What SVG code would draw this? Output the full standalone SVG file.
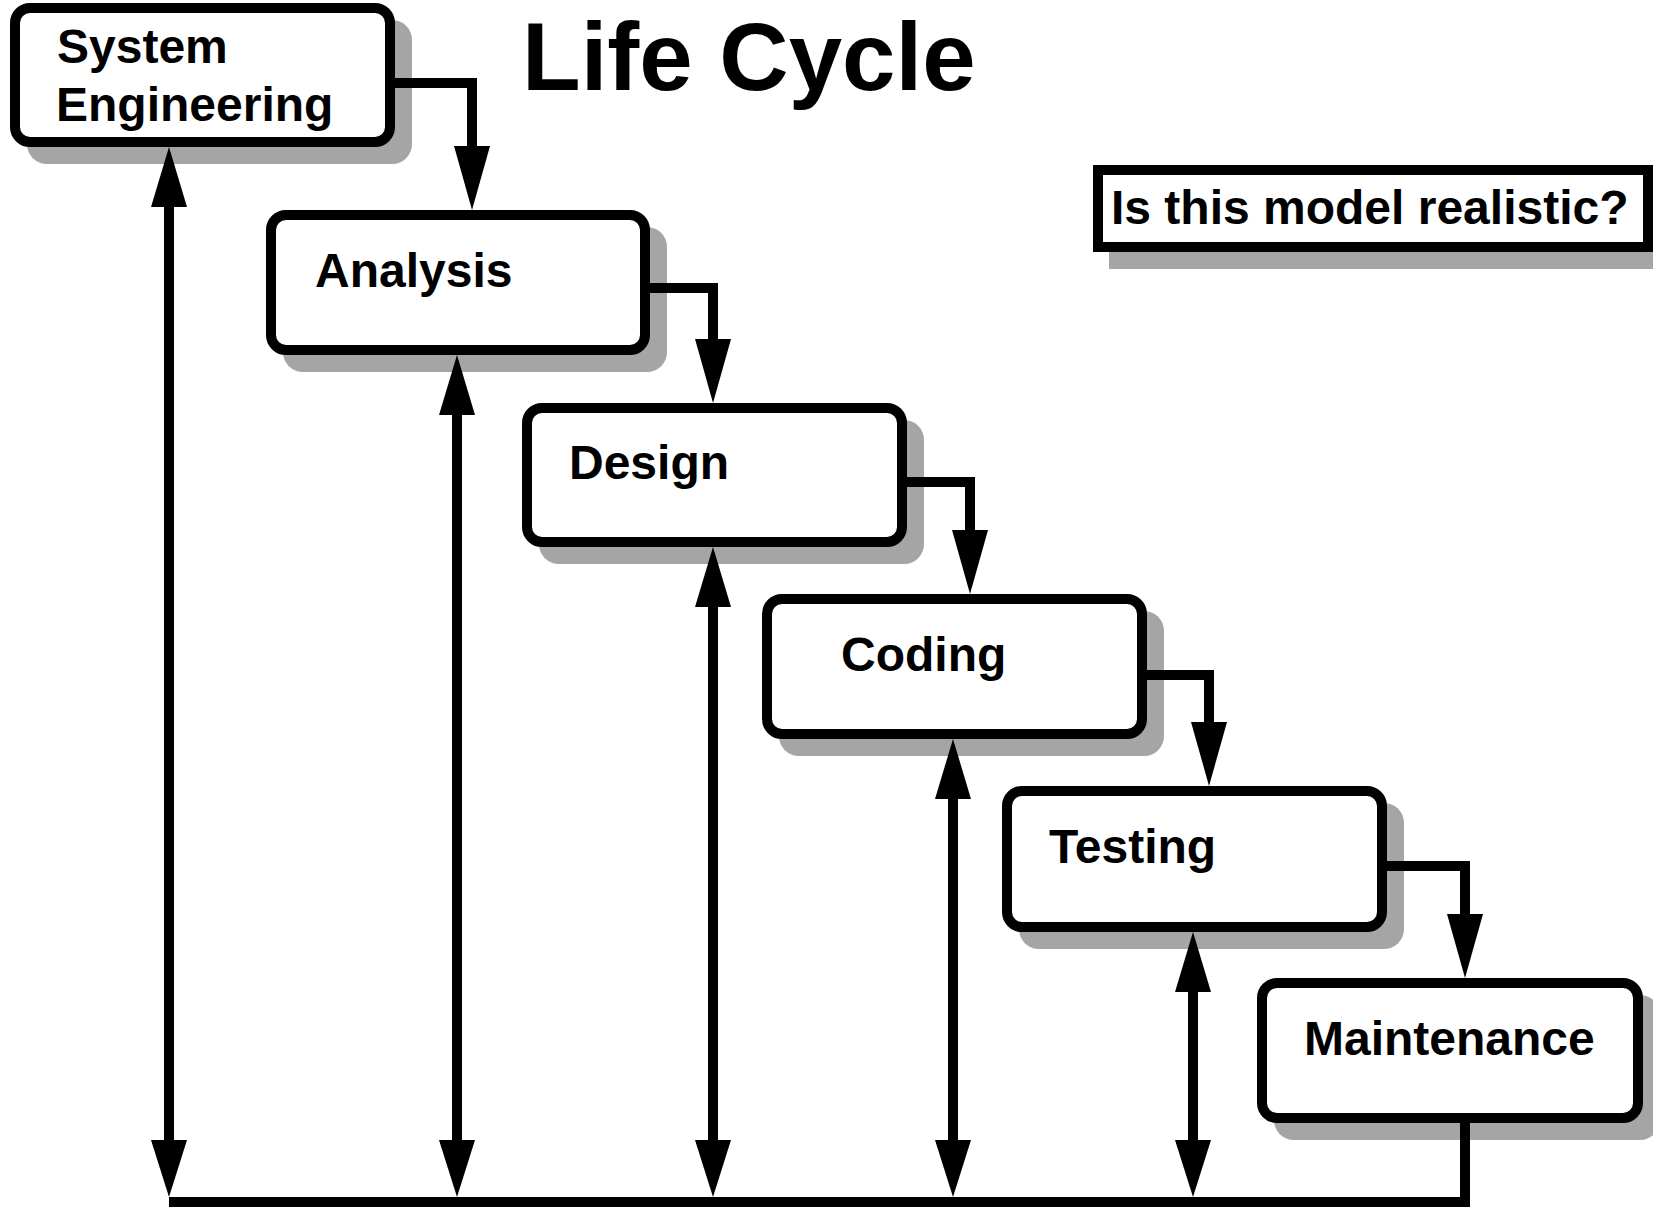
<svg xmlns="http://www.w3.org/2000/svg" xmlns:xlink="http://www.w3.org/1999/xlink" width="1653" height="1207" viewBox="0 0 1653 1207">
<defs>
<style>
.shadow{fill:#a5a5a5;stroke:none}
.box{fill:#ffffff;stroke:#000;stroke-width:10}
.lbl{font-family:"Liberation Sans",Arial,Helvetica,sans-serif;font-weight:bold;font-size:48px;fill:#000}
.title{font-family:"Liberation Sans",Arial,Helvetica,sans-serif;font-weight:bold;font-size:96px;fill:#000}
.note{font-family:"Liberation Sans",Arial,Helvetica,sans-serif;font-weight:bold;font-size:48px;fill:#000}
.wire{fill:none;stroke:#000;stroke-width:10;stroke-linejoin:miter;stroke-linecap:butt}
</style>
<polygon id="dn" points="0,0 -18,-64 18,-64" fill="#000"/>
<polygon id="dnb" points="0,0 -18,-57 18,-57" fill="#000"/>
<polygon id="up" points="0,0 -18,60 18,60" fill="#000"/>
</defs>
<rect width="1653" height="1207" fill="#fff"/>

<text class="title" x="522" y="90">Life Cycle</text>

<g id="note">
<rect class="shadow" x="1109" y="181" width="560" height="88"/>
<rect class="box" x="1098" y="170" width="550" height="77"/>
<text class="note" x="1111" y="224">Is this model realistic?</text>
</g>

<g id="system-engineering">
<rect class="shadow" x="27" y="20" width="385" height="144" rx="20"/>
<rect class="box" x="15" y="8" width="375" height="134" rx="15"/>
<text class="lbl" x="57" y="63">System</text>
<text class="lbl" x="56" y="121">Engineering</text>
</g>

<g id="analysis">
<rect class="shadow" x="283" y="227" width="384" height="145" rx="20"/>
<rect class="box" x="271" y="215" width="374" height="135" rx="15"/>
<text class="lbl" x="315" y="287">Analysis</text>
</g>

<g id="design">
<rect class="shadow" x="539" y="420" width="385" height="144" rx="20"/>
<rect class="box" x="527" y="408" width="375" height="134" rx="15"/>
<text class="lbl" x="569" y="479">Design</text>
</g>

<g id="coding">
<rect class="shadow" x="779" y="611" width="385" height="145" rx="20"/>
<rect class="box" x="767" y="599" width="375" height="135" rx="15"/>
<text class="lbl" x="841" y="671">Coding</text>
</g>

<g id="testing">
<rect class="shadow" x="1019" y="803" width="385" height="146" rx="20"/>
<rect class="box" x="1007" y="791" width="375" height="136" rx="15"/>
<text class="lbl" x="1049" y="863">Testing</text>
</g>

<g id="maintenance">
<rect class="shadow" x="1274" y="995" width="386" height="145" rx="20"/>
<rect class="box" x="1262" y="983" width="376" height="135" rx="15"/>
<text class="lbl" x="1304" y="1055">Maintenance</text>
</g>

<g id="connectors">
<path class="wire" d="M392,83 H472 V147"/>
<use xlink:href="#dn" href="#dn" x="472" y="210"/>
<path class="wire" d="M647,288 H713 V340"/>
<use xlink:href="#dn" href="#dn" x="713" y="403"/>
<path class="wire" d="M904,482 H970 V531"/>
<use xlink:href="#dn" href="#dn" x="970" y="594"/>
<path class="wire" d="M1144,675 H1209 V723"/>
<use xlink:href="#dn" href="#dn" x="1209" y="786"/>
<path class="wire" d="M1384,866 H1465 V915"/>
<use xlink:href="#dn" href="#dn" x="1465" y="978"/>

<path class="wire" d="M169,206 V1142"/>
<use xlink:href="#up" href="#up" x="169" y="147"/>
<use xlink:href="#dnb" href="#dnb" x="169" y="1197"/>
<path class="wire" d="M457,414 V1142"/>
<use xlink:href="#up" href="#up" x="457" y="355"/>
<use xlink:href="#dnb" href="#dnb" x="457" y="1197"/>
<path class="wire" d="M713,606 V1142"/>
<use xlink:href="#up" href="#up" x="713" y="547"/>
<use xlink:href="#dnb" href="#dnb" x="713" y="1197"/>
<path class="wire" d="M953,798 V1142"/>
<use xlink:href="#up" href="#up" x="953" y="739"/>
<use xlink:href="#dnb" href="#dnb" x="953" y="1197"/>
<path class="wire" d="M1193,991 V1142"/>
<use xlink:href="#up" href="#up" x="1193" y="932"/>
<use xlink:href="#dnb" href="#dnb" x="1193" y="1197"/>

<path class="wire" d="M1465,1118 V1202 H169"/>
</g>
</svg>
